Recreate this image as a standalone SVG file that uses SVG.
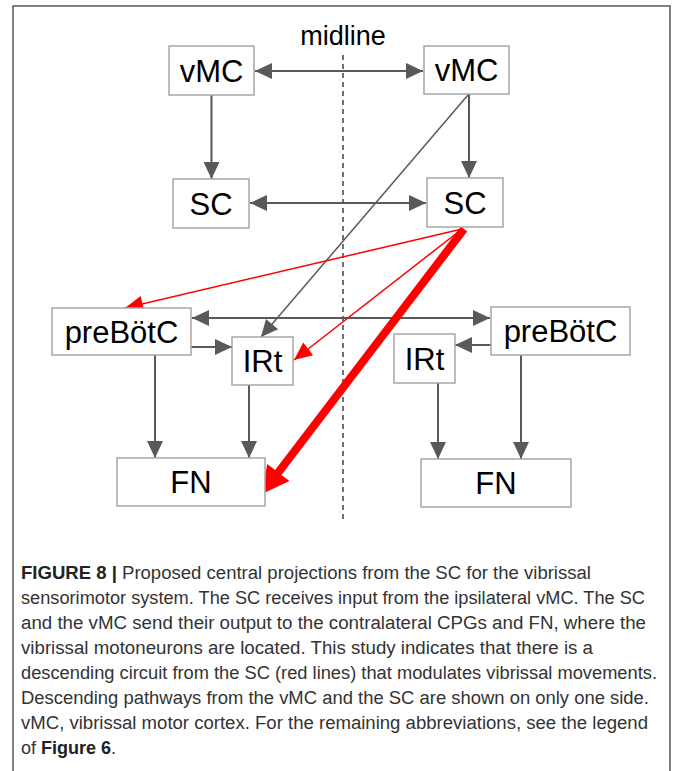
<svg xmlns="http://www.w3.org/2000/svg" width="675" height="771" viewBox="0 0 675 771">
<style>
.box{fill:#fff;stroke:#a6a6a6;stroke-width:1.5}
.lbl{font-family:"Liberation Sans",Arial,sans-serif;font-size:31px;fill:#000;text-anchor:middle}
.g{stroke:#595959;stroke-width:2;fill:none}
.gt{stroke:#595959;stroke-width:1.5;fill:none}
.r{stroke:#ff0000;stroke-width:1.5;fill:none}
.cap{font-family:"Liberation Sans",Arial,sans-serif;font-size:18px;fill:#333}
.b{font-weight:bold;fill:#222}
</style>
<defs>
<marker id="ag" markerUnits="userSpaceOnUse" markerWidth="18" markerHeight="16" refX="17" refY="8" orient="auto-start-reverse" overflow="visible"><path d="M0,0 L17,8 L0,16 Z" fill="#595959"/></marker>
<marker id="ar" markerUnits="userSpaceOnUse" markerWidth="19" markerHeight="16" refX="18" refY="8" orient="auto" overflow="visible"><path d="M0,0 L18,8 L0,16 Z" fill="#ff0000"/></marker>
<marker id="arb" markerUnits="userSpaceOnUse" markerWidth="30" markerHeight="28" refX="1" refY="14" orient="auto" overflow="visible"><path d="M0,0 L27,14 L0,28 Z" fill="#ff0000"/></marker>
</defs>
<rect width="675" height="771" fill="#fff"/>
<path d="M13,771 V6 H670 V771" fill="none" stroke="#555" stroke-width="1.5"/>
<g id="midline">
<text x="343" y="45" font-family="'Liberation Sans',Arial,sans-serif" font-size="27" text-anchor="middle" fill="#000">midline</text>
<line x1="343" y1="55" x2="343" y2="522" stroke="#444" stroke-width="1.5" stroke-dasharray="5,4"/>
</g>
<g id="connectors">
<line class="g" x1="255" y1="71" x2="423" y2="71" marker-start="url(#ag)" marker-end="url(#ag)"/>
<line class="g" x1="211.5" y1="95" x2="211.5" y2="179" marker-end="url(#ag)"/>
<line class="g" x1="469" y1="94" x2="469" y2="178" marker-end="url(#ag)"/>
<line class="g" x1="250" y1="203" x2="426" y2="203" marker-start="url(#ag)" marker-end="url(#ag)"/>
<line class="gt" x1="468" y1="95" x2="261" y2="337" marker-end="url(#ag)"/>
<line class="g" x1="192" y1="318" x2="490" y2="318" marker-start="url(#ag)" marker-end="url(#ag)"/>
<line class="g" x1="191" y1="347" x2="232" y2="347" marker-end="url(#ag)"/>
<line class="g" x1="491" y1="345" x2="455" y2="345" marker-end="url(#ag)"/>
<line class="g" x1="155" y1="355" x2="155" y2="458" marker-end="url(#ag)"/>
<line class="g" x1="249" y1="385" x2="249" y2="458" marker-end="url(#ag)"/>
<line class="g" x1="438" y1="383" x2="438" y2="459" marker-end="url(#ag)"/>
<line class="g" x1="521" y1="355" x2="521" y2="459" marker-end="url(#ag)"/>
<line class="r" x1="462" y1="229" x2="125" y2="308" marker-end="url(#ar)"/>
<line class="r" x1="462" y1="229" x2="294" y2="360" marker-end="url(#ar)"/>
<line x1="464" y1="229" x2="277.7" y2="473.3" stroke="#ff0000" stroke-width="8" marker-end="url(#arb)"/>
</g>
<g id="vMC-left"><rect class="box" x="169" y="46" width="85" height="49"/><text class="lbl" x="211.5" y="81.5">vMC</text></g>
<g id="vMC-right"><rect class="box" x="424" y="46" width="85" height="48"/><text class="lbl" x="466.5" y="81">vMC</text></g>
<g id="SC-left"><rect class="box" x="173" y="179" width="76" height="49"/><text class="lbl" x="211" y="214.5">SC</text></g>
<g id="SC-right"><rect class="box" x="427" y="178" width="76" height="49"/><text class="lbl" x="465" y="213.5">SC</text></g>
<g id="preBotC-left"><rect class="box" x="52" y="308" width="139" height="47"/><text class="lbl" x="121.5" y="342.5">preBötC</text></g>
<g id="IRt-left"><rect class="box" x="232" y="337" width="61" height="48"/><text class="lbl" x="262.5" y="372">IRt</text></g>
<g id="preBotC-right"><rect class="box" x="491" y="307" width="139" height="48"/><text class="lbl" x="560.5" y="342">preBötC</text></g>
<g id="IRt-right"><rect class="box" x="394" y="334" width="61" height="49"/><text class="lbl" x="424.5" y="369.5">IRt</text></g>
<g id="FN-left"><rect class="box" x="117" y="458" width="148" height="48"/><text class="lbl" x="191" y="493">FN</text></g>
<g id="FN-right"><rect class="box" x="421" y="459" width="150" height="48"/><text class="lbl" x="496" y="494">FN</text></g>
<g id="caption">
<text class="cap" x="21" y="579" textLength="570" lengthAdjust="spacingAndGlyphs"><tspan class="b">FIGURE 8 |</tspan> Proposed central projections from the SC for the vibrissal</text>
<text class="cap" x="21" y="604" textLength="624" lengthAdjust="spacingAndGlyphs">sensorimotor system. The SC receives input from the ipsilateral vMC. The SC</text>
<text class="cap" x="21" y="629" textLength="625" lengthAdjust="spacingAndGlyphs">and the vMC send their output to the contralateral CPGs and FN, where the</text>
<text class="cap" x="21" y="654" textLength="572" lengthAdjust="spacingAndGlyphs">vibrissal motoneurons are located. This study indicates that there is a</text>
<text class="cap" x="21" y="679" textLength="636" lengthAdjust="spacingAndGlyphs">descending circuit from the SC (red lines) that modulates vibrissal movements.</text>
<text class="cap" x="21" y="704" textLength="628" lengthAdjust="spacingAndGlyphs">Descending pathways from the vMC and the SC are shown on only one side.</text>
<text class="cap" x="21" y="729" textLength="627" lengthAdjust="spacingAndGlyphs">vMC, vibrissal motor cortex. For the remaining abbreviations, see the legend</text>
<text class="cap" x="21" y="754">of <tspan class="b">Figure 6</tspan>.</text>
</g>
</svg>
